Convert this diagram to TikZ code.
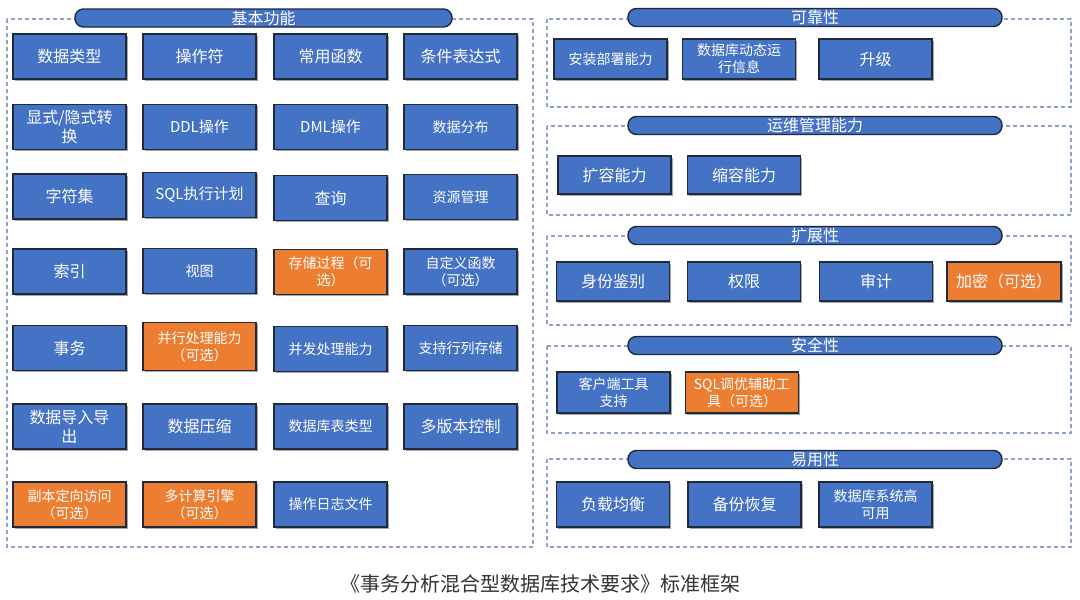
\documentclass[tikz,border=0pt]{standalone}
\usepackage{fontspec}
\setmainfont{Noto Sans CJK SC}
\usetikzlibrary{shadows}
\definecolor{boxblue}{HTML}{4472C4}
\definecolor{boxorange}{HTML}{ED7D31}
\definecolor{boxedge}{HTML}{1F2A3C}
\definecolor{dashc}{HTML}{8FA3C6}
\definecolor{captc}{HTML}{333333}
\tikzset{
  item/.style={draw=boxedge, line width=1.4pt, fill=boxblue, text=white, align=center,
    inner sep=2pt, minimum width=113pt, minimum height=45pt,
    drop shadow={shadow xshift=1.5pt, shadow yshift=-1.5pt, opacity=0.35, fill=black},
    font=\fontsize{16}{19}\selectfont},
  opt/.style={fill=boxorange},
  small/.style={font=\fontsize{14}{17}\selectfont},
  pill/.style={draw=boxedge, line width=1.4pt, fill=boxblue, text=white, rounded corners=8.5pt,
    minimum height=18pt, inner sep=0pt, font=\fontsize{16}{16}\selectfont},
  group/.style={draw=dashc, line width=1.2pt, dash pattern=on 4pt off 3pt},
}
\begin{document}
\begin{tikzpicture}[x=1pt,y=-1pt]
\fill[white] (0,0) rectangle (1080,600);
\useasboundingbox (0,0) rectangle (1080,600);

% ---------------- left group ----------------
\draw[group] (7,19) rectangle (533,547);
\node[pill, minimum width=377pt] (tBasic) at (263.5,18) {基本功能};

% row 1
\node[item] (a11) at (69.5,56.5) {数据类型};
\node[item] (a12) at (199.5,56.5) {操作符};
\node[item] (a13) at (330.5,56.5) {常用函数};
\node[item] (a14) at (460.5,56.5) {条件表达式};
% row 2
\node[item] (a21) at (69.5,127) {显式/隐式转\\换};
\node[item,font=\fontsize{15}{18}\selectfont] (a22) at (199.5,127) {DDL操作};
\node[item,font=\fontsize{15}{18}\selectfont] (a23) at (330.5,127) {DML操作};
\node[item,small] (a24) at (460.5,127) {数据分布};
% row 3
\node[item] (a31) at (69.5,196.5) {字符集};
\node[item,font=\fontsize{15}{18}\selectfont] (a32) at (199.5,195) {SQL执行计划};
\node[item] (a33) at (330.5,198) {查询};
\node[item,small] (a34) at (460.5,197) {资源管理};
% row 4
\node[item] (a41) at (69.5,271.5) {索引};
\node[item,small] (a42) at (199.5,271) {视图};
\node[item,opt,small] (a43) at (330.5,272) {存储过程（可\\选）};
\node[item,small] (a44) at (460.5,271.5) {自定义函数\\（可选）};
% row 5
\node[item] (a51) at (69.5,348) {事务};
\node[item,opt,small,minimum height=48pt] (a52) at (199.5,346.5) {并行处理能力\\（可选）};
\node[item,small] (a53) at (330.5,349) {并发处理能力};
\node[item,small] (a54) at (460.5,348) {支持行列存储};
% row 6
\node[item] (a61) at (69.5,426.5) {数据导入导\\出};
\node[item] (a62) at (199.5,426.5) {数据压缩};
\node[item,small] (a63) at (330.5,426.5) {数据库表类型};
\node[item] (a64) at (460.5,426.5) {多版本控制};
% row 7
\node[item,opt,small] (a71) at (69.5,504.5) {副本定向访问\\（可选）};
\node[item,opt,small] (a72) at (199.5,504.5) {多计算引擎\\（可选）};
\node[item,small] (a73) at (330.5,504.5) {操作日志文件};

% ---------------- right groups ----------------
% 可靠性
\draw[group] (547,19) rectangle (1071,107);
\node[pill, minimum width=374pt] (tRel) at (815,17.5) {可靠性};
\node[item,small,minimum height=40pt] (b11) at (610.5,59) {安装部署能力};
\node[item,small,minimum height=40pt] (b12) at (739,59) {数据库动态运\\行信息};
\node[item,minimum height=40pt] (b13) at (875.5,59) {升级};

% 运维管理能力
\draw[group] (547,126) rectangle (1071,215);
\node[pill, minimum width=374pt] (tOps) at (815,125.5) {运维管理能力};
\node[item,minimum height=38pt] (b21) at (614.5,175) {扩容能力};
\node[item,minimum height=38pt] (b22) at (744,175) {缩容能力};

% 扩展性
\draw[group] (547,236) rectangle (1071,325);
\node[pill, minimum width=374pt] (tExt) at (815,235.5) {扩展性};
\node[item,minimum height=39pt] (b31) at (613,281.5) {身份鉴别};
\node[item,minimum height=39pt] (b32) at (744,281.5) {权限};
\node[item,minimum height=39pt] (b33) at (876,281.5) {审计};
\node[item,opt,minimum height=39pt,minimum width=114pt] (b34) at (1004,281.5) {加密（可选）};

% 安全性
\draw[group] (547,346) rectangle (1071,433);
\node[pill, minimum width=374pt] (tSec) at (815,345.5) {安全性};
\node[item,small,minimum height=41pt] (b41) at (613.5,392.5) {客户端工具\\支持};
\node[item,opt,small,minimum height=41pt] (b42) at (742,392.5) {SQL调优辅助工\\具（可选）};

% 易用性
\draw[group] (547,459) rectangle (1071,547);
\node[pill, minimum width=374pt] (tUse) at (815,459.5) {易用性};
\node[item] (b51) at (613,504.5) {负载均衡};
\node[item] (b52) at (744.5,504.5) {备份恢复};
\node[item,small] (b53) at (875.5,504.5) {数据库系统高\\可用};

% caption
\node[font=\fontsize{20}{20}\selectfont, text=captc] (cap) at (540,584) {《事务分析混合型数据库技术要求》标准框架};
\end{tikzpicture}
\end{document}
